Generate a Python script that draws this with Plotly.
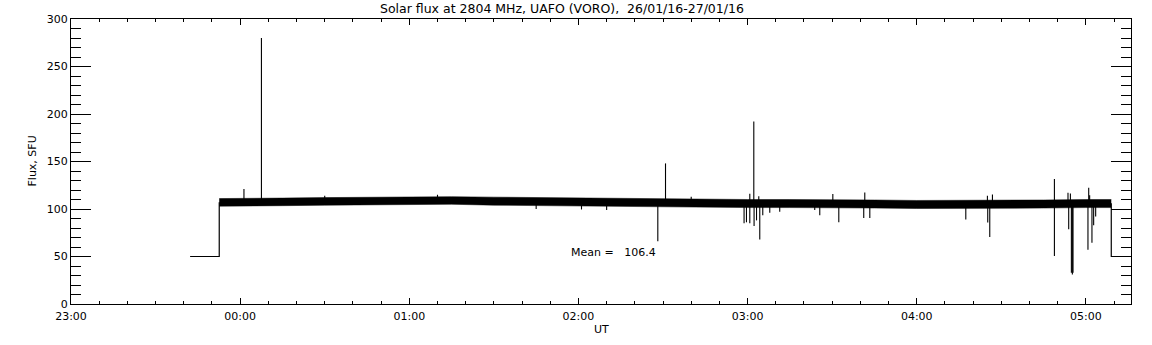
import plotly.graph_objects as go

# ---------------- data ----------------
DAY1 = "2016-01-26"
DAY2 = "2016-01-27"

# flat 50 SFU segments before / after the observation (clock times)
pre_times = ["23:42:15", "23:52:35", "23:52:35"]
pre_values = [50, 50, 107]
post_times = ["05:09:00", "05:09:00", "05:16:00"]
post_values = [106, 50, 50]

# envelope of the dense noise band (clock times, upper and lower flux)
band_times = ["23:52:35", "00:00", "00:15", "00:30", "00:45", "01:00", "01:15",
              "01:30", "01:45", "02:00", "02:15", "02:30", "02:45", "03:00",
              "03:15", "03:30", "03:45", "04:00", "04:15", "04:30", "04:45",
              "05:00", "05:09:00"]
band_upper = [111, 111, 111.5, 112, 112.5, 113, 113, 112.5, 112, 111.5, 111,
              110.5, 110, 110, 110, 110, 109.5, 109, 109, 109, 109.5, 110, 110]
band_lower = [103, 103, 103.5, 104, 104.5, 105, 105, 104, 103.5, 103, 102.5,
              102, 101.5, 101.5, 101.5, 101.5, 101, 100.5, 100.5, 100.5, 101,
              101.5, 101.5]

# isolated spikes (clock time, extreme flux)
spike_times = ["00:01:21", "00:07:33", "00:30:00", "01:10:00", "01:45:00",
               "02:01:05", "02:10:00", "02:28:09", "02:30:53", "02:40:00",
               "02:58:45", "02:59:36", "03:00:47", "03:00:47", "03:02:12",
               "03:02:18", "03:03:10", "03:03:58", "03:04:19", "03:05:23",
               "03:07:52", "03:11:24", "03:23:49", "03:25:36", "03:30:14",
               "03:32:21", "03:41:12", "03:41:34", "03:43:21", "04:17:24",
               "04:25:04", "04:25:11", "04:25:54", "04:26:51", "04:48:50",
               "04:48:50", "04:53:39", "04:53:54", "04:54:30", "04:54:51",
               "04:55:12", "04:55:26", "05:00:44", "05:01:00", "05:01:20",
               "05:02:09", "05:02:45", "05:03:28"]
spike_values = [121, 280, 114, 115, 100,
                99.5, 99, 66, 148, 113,
                85, 86, 85, 116, 192,
                82, 88, 113.5, 68, 93.5,
                96, 97, 99, 93.5, 115.7,
                86, 90.6, 117.5, 90.6, 89,
                114, 85.8, 70.6, 115.3, 131.5,
                50.5, 117, 78.7, 116.4, 33,
                31, 33, 57.2, 122.3, 114.6,
                64.6, 83, 92]

mean_flux = 106.4

title_text = "Solar flux at 2804 MHz, UAFO (VORO),\u00a0 26/01/16-27/01/16"
x_label = "UT"
y_label = "Flux, SFU"
x_range = ["23:00", "05:16"]
y_ticks = [0, 50, 100, 150, 200, 250, 300]


def stamp(clock):
    """attach the date: times from 23h belong to the first day"""
    parts = clock.split(":")
    day = DAY1 if int(parts[0]) >= 23 else DAY2
    if len(parts) == 2:
        clock = clock + ":00"
    return f"{day} {clock}"


# ---------------- figure ----------------
fig = go.Figure()

fig.add_trace(go.Scatter(x=[stamp(t) for t in pre_times], y=pre_values,
                         mode="lines", line=dict(color="black", width=1.2),
                         showlegend=False, hoverinfo="skip"))
fig.add_trace(go.Scatter(x=[stamp(t) for t in post_times], y=post_values,
                         mode="lines", line=dict(color="black", width=1.2),
                         showlegend=False, hoverinfo="skip"))

bx = [stamp(t) for t in band_times]
fig.add_trace(go.Scatter(x=bx, y=band_lower, mode="lines",
                         line=dict(color="black", width=0.5),
                         showlegend=False, hoverinfo="skip"))
fig.add_trace(go.Scatter(x=bx, y=band_upper, mode="lines", fill="tonexty",
                         fillcolor="black", line=dict(color="black", width=0.5),
                         showlegend=False, hoverinfo="skip"))

sx, sy = [], []
for t, v in zip(spike_times, spike_values):
    sx += [stamp(t), stamp(t), None]
    sy += [mean_flux, v, None]
fig.add_trace(go.Scatter(x=sx, y=sy, mode="lines",
                         line=dict(color="black", width=1.1),
                         showlegend=False, hoverinfo="skip"))

L, R, T, B = 71, 21, 19, 41
W, H = 1152, 345
pw, ph = W - L - R, H - T - B

font = dict(family="DejaVu Sans", size=11, color="black")

fig.update_layout(
    width=W, height=H,
    margin=dict(l=L, r=R, t=T, b=B, pad=0),
    paper_bgcolor="white", plot_bgcolor="white",
    font=font,
    showlegend=False,
    xaxis=dict(
        type="date",
        range=[stamp(x_range[0]), stamp(x_range[1])],
        tickformat="%H:%M", dtick=3600000, tick0=stamp("23:00"),
        ticks="inside", ticklen=6, tickwidth=1, tickcolor="black",
        showline=True, linecolor="black", linewidth=1, mirror="ticks",
        showgrid=False, zeroline=False, ticklabelstandoff=2,
        minor=dict(dtick=600000, ticks="inside", ticklen=3, tickcolor="black",
                   showgrid=False),
        tickfont=font,
    ),
    yaxis=dict(
        range=[0, 300], tickvals=y_ticks,
        ticks="inside", ticklen=20, tickwidth=1, tickcolor="black",
        showline=True, linecolor="black", linewidth=1, mirror="ticks",
        showgrid=False, zeroline=False,
        minor=dict(dtick=10, ticks="inside", ticklen=10, tickcolor="black",
                   showgrid=False),
        tickfont=font,
    ),
    annotations=[
        dict(text=title_text, xref="paper", yref="paper",
             x=(562 - L) / pw, y=1 + (T - 9) / ph, xanchor="center",
             yanchor="middle", showarrow=False,
             font=dict(family="DejaVu Sans", size=12.5, color="black")),
        dict(text=x_label, xref="paper", yref="paper",
             x=0.5, y=-(329 - (H - B)) / ph, xanchor="center", yanchor="middle",
             showarrow=False, font=font),
        dict(text=y_label, xref="paper", yref="paper", textangle=-90,
             x=-(L - 32) / pw, y=0.5, xanchor="center", yanchor="middle",
             showarrow=False, font=font),
        dict(text=f"Mean =\u00a0\u00a0 {mean_flux}", xref="paper", yref="paper",
             x=(569 - L) / pw, y=(H - B - 252.7) / ph, xanchor="left",
             yanchor="middle", showarrow=False, font=font),
    ],
)

fig.write_html("out.html", config={"displayModeBar": False},
               post_script="document.body.style.margin='0';"
                           "document.body.style.overflow='hidden';")
